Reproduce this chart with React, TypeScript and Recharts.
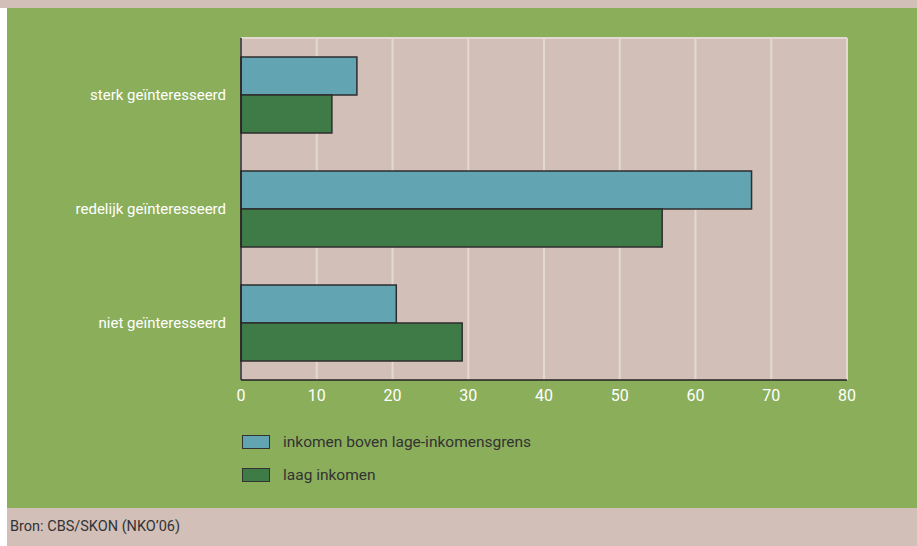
import * as React from "react"
import { BarChart, Bar, XAxis, YAxis, CartesianGrid } from "recharts"

const categories = ["sterk geïnteresseerd", "redelijk geïnteresseerd", "niet geïnteresseerd"]
const bovenGrens = [15.3, 67.4, 20.5]
const laagInkomen = [12.0, 55.6, 29.2]
const xTicks = [0, 10, 20, 30, 40, 50, 60, 70, 80]

const seriesInfo = [
  { key: "boven", name: "inkomen boven lage-inkomensgrens", color: "#63A4B3" },
  { key: "laag", name: "laag inkomen", color: "#3E7B46" },
]

const data = categories.map((c, i) => ({ cat: c, boven: bovenGrens[i], laag: laagInkomen[i] }))

const FONT = "Roboto, 'DejaVu Sans Condensed', sans-serif"
const PINK = "#D1BFB8"
const GREEN = "#8BAE5B"

function LegendBlock() {
  return (
    <div style={{ position: "absolute", left: 242, top: 425, fontFamily: FONT, fontSize: 15.5, color: "#333" }}>
      {seriesInfo.map((s) => (
        <div key={s.key} style={{ display: "flex", alignItems: "center", height: 33 }}>
          <span
            style={{
              display: "inline-block",
              width: 26,
              height: 12,
              background: s.color,
              border: "1px solid #333",
              marginRight: 13,
            }}
          />
          {s.name}
        </div>
      ))}
    </div>
  )
}

export default function App() {
  return (
    <div style={{ position: "fixed", left: 0, top: 0, width: 917, height: 546, background: "#fff", overflow: "hidden" }}>
      <div style={{ position: "absolute", left: 0, top: 0, width: 917, height: 8, background: PINK }} />
      <div style={{ position: "absolute", left: 7, top: 8, width: 910, height: 500, background: GREEN }} />
      <div
        style={{
          position: "absolute",
          left: 7,
          top: 508,
          width: 910,
          height: 38,
          background: PINK,
          fontFamily: FONT,
          fontSize: 14.5,
          color: "#333",
          lineHeight: "38px",
          paddingLeft: 3,
        }}
      >
        Bron: CBS/SKON (NKO’06)
      </div>
      <div style={{ position: "absolute", left: 0, top: 0 }}>
        <BarChart
          width={917}
          height={420}
          data={data}
          layout="vertical"
          margin={{ top: 38, right: 70, bottom: 10, left: 0 }}
          barGap={0}
          barSize={38}
        >
          <CartesianGrid
            fill={PINK}
            stroke="#E4D9D2"
            strokeWidth={2}
            horizontal={true}
            horizontalCoordinatesGenerator={(p: any) => [p.offset.top]}
          />
          <XAxis
            type="number"
            domain={[0, 80]}
            ticks={xTicks}
            axisLine={{ stroke: "#222", strokeWidth: 1.5 }}
            tickLine={false}
            tickSize={6}
            tickMargin={4}
            height={30}
            tick={{ fill: "#fff", fontSize: 16, fontFamily: FONT }}
          />
          <YAxis
            type="category"
            dataKey="cat"
            width={241}
            axisLine={{ stroke: "#222", strokeWidth: 1.5 }}
            tickLine={false}
            tickSize={0}
            tickMargin={15}
            tick={{ fill: "#fff", fontSize: 15, fontFamily: FONT }}
          />
          {seriesInfo.map((s) => (
            <Bar
              key={s.key}
              dataKey={s.key}
              name={s.name}
              fill={s.color}
              stroke="#2E2E2E"
              strokeWidth={1.5}
              isAnimationActive={false}
            />
          ))}
        </BarChart>
      </div>
      <LegendBlock />
    </div>
  )
}
